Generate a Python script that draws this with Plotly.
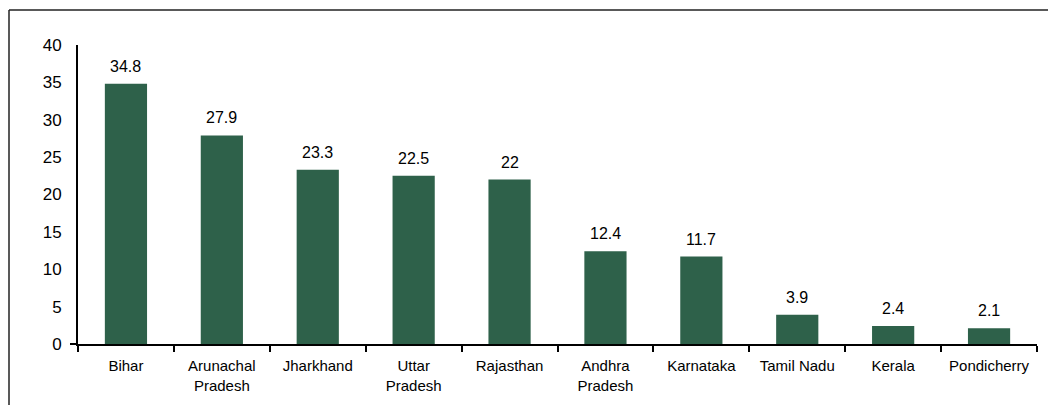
import plotly.graph_objects as go

states = ["Bihar", "Arunachal<br>Pradesh", "Jharkhand", "Uttar<br>Pradesh", "Rajasthan",
          "Andhra<br>Pradesh", "Karnataka", "Tamil Nadu", "Kerala", "Pondicherry"]
values = [34.8, 27.9, 23.3, 22.5, 22, 12.4, 11.7, 3.9, 2.4, 2.1]
labels = ["34.8", "27.9", "23.3", "22.5", "22", "12.4", "11.7", "3.9", "2.4", "2.1"]
y_ticks = [0, 5, 10, 15, 20, 25, 30, 35, 40]

BAR = "#2E614A"
FONT = "Liberation Sans, Arial, sans-serif"

fig = go.Figure()
fig.add_trace(go.Bar(x=states, y=values, marker=dict(color=BAR, line=dict(width=0)),
                     width=0.44, hoverinfo="skip"))

for s, v, t in zip(states, values, labels):
    fig.add_annotation(x=s, y=v, text=t, showarrow=False, yanchor="bottom", yshift=7,
                       font=dict(family=FONT, size=16, color="#000000"))

# page body has an 8px margin, so the figure is offset by (8, 8) in the window
OFF = 8
W, H = 1056 - OFF, 405 - OFF
L, R = 78 - OFF, 19
T = 45 - OFF
B = H - (344 - OFF)
pw, ph = W - L - R, H - T - B

def px(x):
    return (x - OFF - L) / pw

def py(y):
    return (H - B - (y - OFF)) / ph

# outer frame (top and left edges)
fig.add_shape(type="line", xref="paper", yref="paper", x0=px(9), x1=px(1070), y0=py(10), y1=py(10),
              line=dict(color="#222222", width=1.5))
fig.add_shape(type="line", xref="paper", yref="paper", x0=px(9), x1=px(9), y0=py(10), y1=py(420),
              line=dict(color="#222222", width=1.5))
# small extension of the x-axis line to the left of the y-axis
fig.add_shape(type="line", xref="paper", yref="paper", x0=px(70), x1=0, y0=0, y1=0,
              line=dict(color="#000000", width=2))

fig.update_layout(
    width=W, height=H,
    margin=dict(l=L, r=R, t=T, b=B, autoexpand=False),
    paper_bgcolor="white", plot_bgcolor="white",
    showlegend=False,
    font=dict(family=FONT, size=15, color="#000000"),
    xaxis=dict(showline=True, linecolor="#000000", linewidth=2, ticks="outside",
               tickson="boundaries", ticklen=6, tickwidth=2, tickcolor="#000000",
               showgrid=False, ticklabelstandoff=7, tickangle=0, automargin=False,
               tickfont=dict(family=FONT, size=15, color="#000000")),
    yaxis=dict(range=[0, 40], tickvals=y_ticks, showline=True, linecolor="#000000",
               linewidth=2, ticks="", showgrid=False, zeroline=False, automargin=False,
               ticklabelstandoff=11,
               tickfont=dict(family=FONT, size=17, color="#000000")),
)

fig.write_html("out.html")
